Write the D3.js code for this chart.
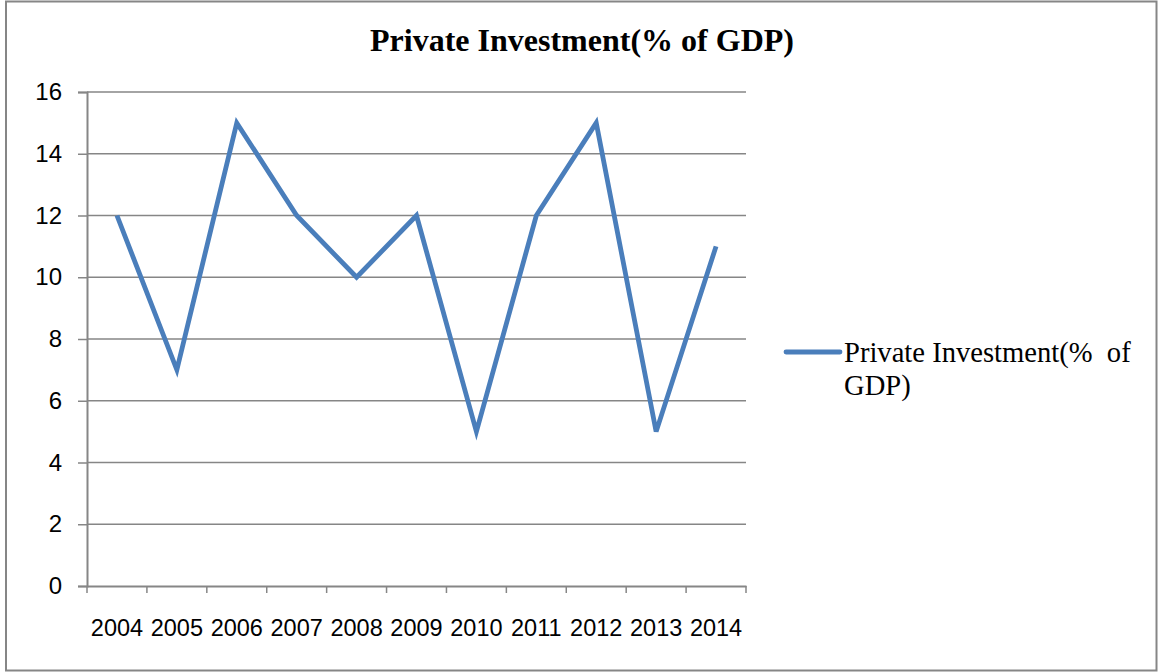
<!DOCTYPE html>
<html>
<head>
<meta charset="utf-8">
<script src="https://cdn.jsdelivr.net/npm/d3@7"></script>
<style>
  html, body { margin: 0; padding: 0; background: #fff; }
  svg { display: block; }
</style>
</head>
<body>
<div id="chart"></div>
<script>
const width = 1158;
const height = 672;

// Données
const years = ["2004", "2005", "2006", "2007", "2008", "2009", "2010", "2011", "2012", "2013", "2014"];
const investment = [12, 7, 15, 12, 10, 12, 5, 12, 15, 5, 11];
const yTicks = [0, 2, 4, 6, 8, 10, 12, 14, 16];
const title = "Private Investment(% of GDP)";
const seriesName = ["Private Investment(%  of", "GDP)"];

const margin = {top: 92, right: 412, bottom: 86, left: 87};
const color = "#4a7ebb";
const axisColor = "#868686";

const x = d3.scaleBand().domain(years).range([margin.left, width - margin.right]);
const y = d3.scaleLinear().domain([0, 16]).range([height - margin.bottom, margin.top]);

const svg = d3.select("#chart")
    .append("svg")
    .attr("width", width)
    .attr("height", height)
    .attr("viewBox", `0 0 ${width} ${height}`);

// Cadre
svg.append("rect")
    .attr("x", 6).attr("y", 1.5)
    .attr("width", width - 7.5).attr("height", height - 3)
    .attr("fill", "#fff")
    .attr("stroke", axisColor)
    .attr("stroke-width", 2);

// Titre
svg.append("text")
    .attr("x", 582)
    .attr("y", 51)
    .attr("text-anchor", "middle")
    .attr("font-family", "Liberation Serif, Times New Roman, serif")
    .attr("font-weight", "bold")
    .attr("font-size", 32)
    .attr("fill", "#000")
    .text(title);

// Grille
svg.append("g")
    .selectAll("line")
    .data(yTicks.slice(1))
    .join("line")
    .attr("x1", margin.left).attr("x2", width - margin.right)
    .attr("y1", d => y(d)).attr("y2", d => y(d))
    .attr("stroke", axisColor)
    .attr("stroke-width", 1.3);

// Axe Y
const yAxis = svg.append("g")
    .attr("transform", `translate(${margin.left},0)`)
    .call(d3.axisLeft(y).tickValues(yTicks).tickSize(9).tickPadding(16));
yAxis.select(".domain").attr("stroke", axisColor).attr("stroke-width", 2);
yAxis.selectAll(".tick line").attr("stroke", axisColor).attr("stroke-width", 1.5);
yAxis.selectAll(".tick text")
    .attr("font-family", "Liberation Sans, Arial, sans-serif")
    .attr("font-size", 24)
    .attr("fill", "#000");

// Axe X
const xAxis = svg.append("g")
    .attr("transform", `translate(0,${y(0)})`)
    .call(d3.axisBottom(x).tickSize(0).tickPadding(33));
xAxis.select(".domain").attr("stroke", axisColor).attr("stroke-width", 2);
xAxis.selectAll(".tick text")
    .attr("font-family", "Liberation Sans, Arial, sans-serif")
    .attr("font-size", 23.5)
    .attr("fill", "#000");

// Graduations entre les catégories
const bounds = years.map(d => x(d)).concat([x(years[years.length - 1]) + x.bandwidth()]);
svg.append("g")
    .selectAll("line")
    .data(bounds)
    .join("line")
    .attr("x1", d => d).attr("x2", d => d)
    .attr("y1", y(0)).attr("y2", y(0) + 7)
    .attr("stroke", axisColor)
    .attr("stroke-width", 1.5);

// Courbe
const line = d3.line()
    .x((d, i) => x(years[i]) + x.bandwidth() / 2)
    .y(d => y(d));

svg.append("path")
    .datum(investment)
    .attr("d", line)
    .attr("fill", "none")
    .attr("stroke", color)
    .attr("stroke-width", 4.8)
    .attr("stroke-linejoin", "miter");

// Légende
const legend = svg.append("g");
legend.append("line")
    .attr("x1", 786).attr("x2", 840)
    .attr("y1", 352).attr("y2", 352)
    .attr("stroke", color)
    .attr("stroke-width", 4.8)
    .attr("stroke-linecap", "round");
legend.append("text")
    .attr("font-family", "Liberation Serif, Times New Roman, serif")
    .attr("font-size", 28.6)
    .attr("fill", "#000")
    .selectAll("tspan")
    .data(seriesName)
    .join("tspan")
    .attr("x", 844)
    .attr("y", (d, i) => 362 + i * 33)
    .attr("xml:space", "preserve")
    .style("white-space", "pre")
    .text(d => d);
</script>
</body>
</html>
